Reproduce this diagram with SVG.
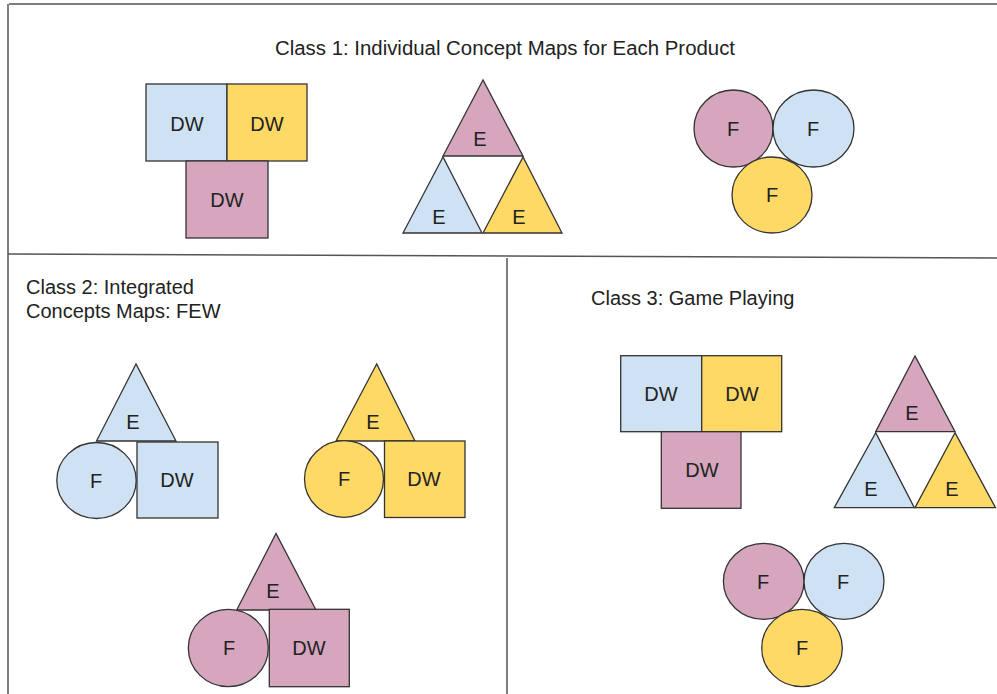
<svg xmlns="http://www.w3.org/2000/svg" width="997" height="694" viewBox="0 0 997 694">
  <style>
    .frame { fill: none; stroke: #555; stroke-width: 1.5; }
    .shape { stroke: #333; stroke-width: 1.3; }
    .blue { fill: #cfe2f3; }
    .yellow { fill: #ffd966; }
    .pink { fill: #d5a6bd; }
    text { font-family: "Liberation Sans", Arial, sans-serif; fill: #222; }
    .lbl { font-size: 20px; text-anchor: middle; }
    .title { font-size: 20px; }
  </style>
  <rect width="997" height="694" fill="#ffffff"/>

  <!-- panel frame and dividers -->
  <g id="frame">
    <line class="frame" x1="9" y1="4" x2="997" y2="4"/>
    <line class="frame" x1="8" y1="4" x2="8" y2="694"/>
    <line class="frame" x1="8" y1="254" x2="997" y2="258"/>
    <line class="frame" x1="507" y1="258" x2="507" y2="694"/>
  </g>

  <!-- panel titles -->
  <g id="titles">
    <text class="title" x="275" y="55" textLength="460" lengthAdjust="spacingAndGlyphs">Class 1: Individual Concept Maps for Each Product</text>
    <text class="title" x="26" y="294">Class 2: Integrated</text>
    <text class="title" x="26" y="318">Concepts Maps: FEW</text>
    <text class="title" x="591" y="305">Class 3: Game Playing</text>
  </g>

  <!-- Class 1: DW squares -->
  <g id="c1-dw-blue"><rect class="shape blue" x="146" y="84" width="81" height="77"/><text class="lbl" x="187" y="131">DW</text></g>
  <g id="c1-dw-yellow"><rect class="shape yellow" x="227" y="84" width="80" height="77"/><text class="lbl" x="267" y="131">DW</text></g>
  <g id="c1-dw-pink"><rect class="shape pink" x="186" y="161" width="82" height="77"/><text class="lbl" x="227" y="207">DW</text></g>

  <!-- Class 1: E triangles -->
  <g id="c1-e-pink"><polygon class="shape pink" points="483,80 443,156 523,156"/><text class="lbl" x="480" y="146">E</text></g>
  <g id="c1-e-blue"><polygon class="shape blue" points="443,157 403,233 482,233"/><text class="lbl" x="439" y="224">E</text></g>
  <g id="c1-e-yellow"><polygon class="shape yellow" points="523,157 483,233 562,233"/><text class="lbl" x="519" y="224">E</text></g>

  <!-- Class 1: F circles -->
  <g id="c1-f-pink"><ellipse class="shape pink" cx="733.5" cy="128.5" rx="39.5" ry="38.5"/><text class="lbl" x="733" y="136">F</text></g>
  <g id="c1-f-blue"><ellipse class="shape blue" cx="813.5" cy="128.5" rx="40.5" ry="38.5"/><text class="lbl" x="813" y="136">F</text></g>
  <g id="c1-f-yellow"><ellipse class="shape yellow" cx="772" cy="195" rx="40" ry="38"/><text class="lbl" x="772" y="202">F</text></g>

  <!-- Class 2: blue FEW map -->
  <g id="c2-blue-e"><polygon class="shape blue" points="136,364 96.5,441 176,441"/><text class="lbl" x="133" y="429">E</text></g>
  <g id="c2-blue-f"><ellipse class="shape blue" cx="96.5" cy="480.5" rx="39.7" ry="38"/><text class="lbl" x="96" y="488">F</text></g>
  <g id="c2-blue-dw"><rect class="shape blue" x="137" y="442" width="81" height="76"/><text class="lbl" x="177" y="487">DW</text></g>

  <!-- Class 2: yellow FEW map -->
  <g id="c2-yellow-e"><polygon class="shape yellow" points="376.7,364 336,441 415,441"/><text class="lbl" x="373" y="429">E</text></g>
  <g id="c2-yellow-f"><ellipse class="shape yellow" cx="344" cy="479" rx="39.5" ry="38.3"/><text class="lbl" x="344" y="486">F</text></g>
  <g id="c2-yellow-dw"><rect class="shape yellow" x="384.5" y="441" width="80.5" height="76.5"/><text class="lbl" x="424" y="486">DW</text></g>

  <!-- Class 2: pink FEW map -->
  <g id="c2-pink-e"><polygon class="shape pink" points="276,533.5 236.7,610 316,610"/><text class="lbl" x="273" y="598">E</text></g>
  <g id="c2-pink-f"><ellipse class="shape pink" cx="228.3" cy="648" rx="40" ry="38.7"/><text class="lbl" x="229" y="655">F</text></g>
  <g id="c2-pink-dw"><rect class="shape pink" x="269.3" y="609.3" width="80" height="77.4"/><text class="lbl" x="309" y="655">DW</text></g>

  <!-- Class 3: DW squares -->
  <g id="c3-dw-blue"><rect class="shape blue" x="620.7" y="355.7" width="81" height="76"/><text class="lbl" x="661" y="401">DW</text></g>
  <g id="c3-dw-yellow"><rect class="shape yellow" x="701.7" y="355.7" width="80" height="76"/><text class="lbl" x="742" y="401">DW</text></g>
  <g id="c3-dw-pink"><rect class="shape pink" x="661.3" y="431.7" width="79.7" height="76.6"/><text class="lbl" x="702" y="477">DW</text></g>

  <!-- Class 3: E triangles -->
  <g id="c3-e-pink"><polygon class="shape pink" points="915,356 875.7,431.7 955,431.7"/><text class="lbl" x="912" y="420">E</text></g>
  <g id="c3-e-blue"><polygon class="shape blue" points="875.7,432.7 834.3,507.7 914.3,507.7"/><text class="lbl" x="871" y="496">E</text></g>
  <g id="c3-e-yellow"><polygon class="shape yellow" points="955,432.7 915,507.7 995.5,507.7"/><text class="lbl" x="952" y="496">E</text></g>

  <!-- Class 3: F circles -->
  <g id="c3-f-pink"><ellipse class="shape pink" cx="763.7" cy="581.3" rx="40.3" ry="38"/><text class="lbl" x="763" y="589">F</text></g>
  <g id="c3-f-blue"><ellipse class="shape blue" cx="844" cy="581.3" rx="40" ry="38"/><text class="lbl" x="843" y="589">F</text></g>
  <g id="c3-f-yellow"><ellipse class="shape yellow" cx="802" cy="648" rx="40.3" ry="38.7"/><text class="lbl" x="802" y="655">F</text></g>
</svg>
